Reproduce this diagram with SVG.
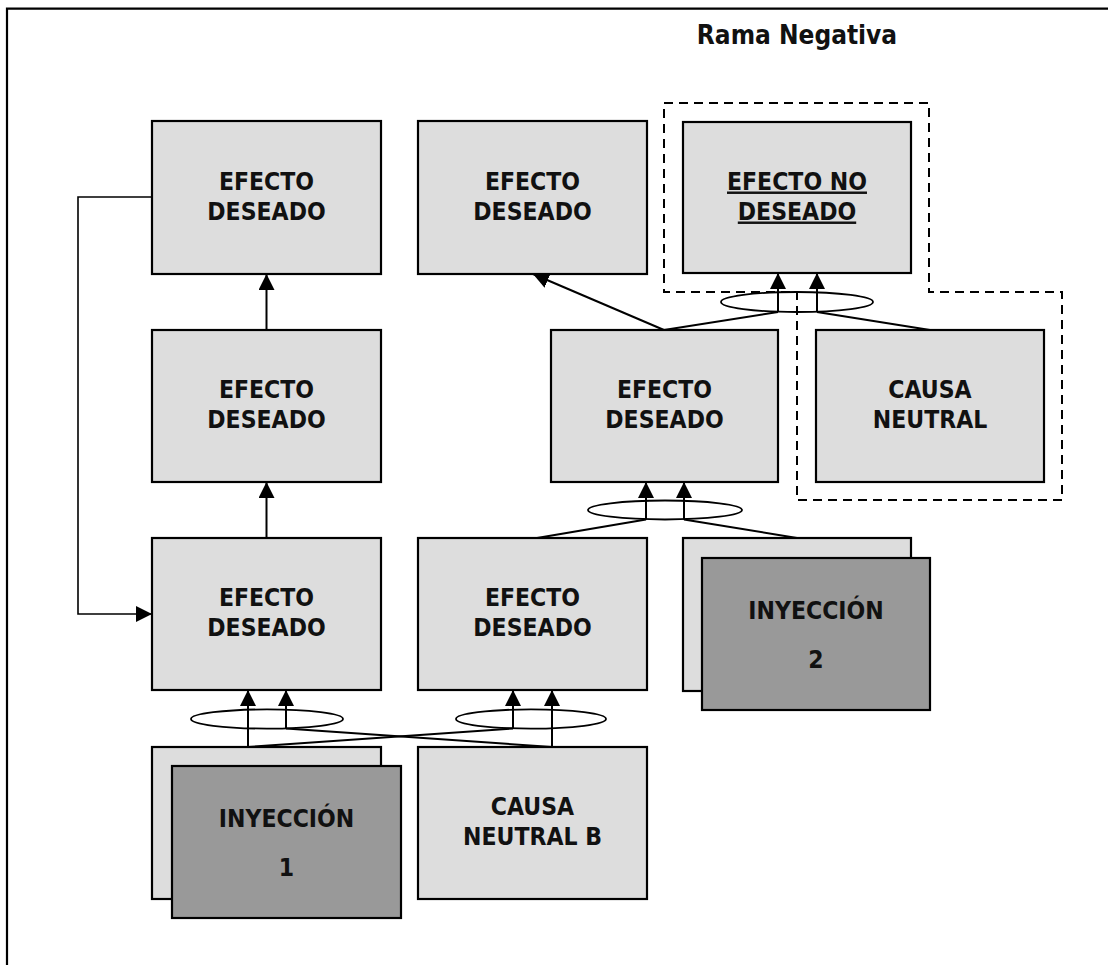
<svg xmlns="http://www.w3.org/2000/svg" width="1108" height="965" viewBox="0 0 1108 965">
<style>
.box{fill:#dddddd;stroke:#000;stroke-width:2.2}
.inj{fill:#999999;stroke:#000;stroke-width:2.2}
.t{font-family:'DejaVu Sans Condensed','DejaVu Sans',sans-serif;font-stretch:condensed;font-weight:bold;font-size:24.5px;fill:#111;text-anchor:middle}
.title{font-family:'DejaVu Sans Condensed','DejaVu Sans',sans-serif;font-stretch:condensed;font-weight:bold;font-size:26px;fill:#111;text-anchor:middle}
.ln{stroke:#000;stroke-width:2;fill:none}
.ell{stroke:#000;stroke-width:1.8;fill:none}
.arr{stroke:#000;stroke-width:2;fill:none;marker-end:url(#ah)}
</style>
<defs>
<marker id="ah" markerUnits="userSpaceOnUse" markerWidth="16" markerHeight="16" viewBox="0 0 15 15" refX="15" refY="7.5" orient="auto">
<path d="M0,0 L15,7.5 L0,15 z" fill="#000"/>
</marker>
</defs>
<rect width="1108" height="965" fill="#fff"/>
<path d="M7,980 V8.7 H1120" fill="none" stroke="#000" stroke-width="2.2"/>
<text class="title" x="797" y="44">Rama Negativa</text>
<path id="negative-branch" d="M664,103 H929 V292 H1062 V500 H797 V292 H664 Z" fill="none" stroke="#000" stroke-width="2" stroke-dasharray="9 6"/>

<g id="n-ed-top-left"><rect class="box" x="152" y="121" width="229" height="153"/><text class="t" x="266.5" y="189.5">EFECTO</text><text class="t" x="266.5" y="219.5">DESEADO</text></g>
<g id="n-ed-top-mid"><rect class="box" x="418" y="121" width="229" height="153"/><text class="t" x="532.5" y="189.5">EFECTO</text><text class="t" x="532.5" y="219.5">DESEADO</text></g>
<g id="n-end"><rect class="box" x="683" y="122" width="228" height="151"/><text class="t" x="797" y="189.5" text-decoration="underline">EFECTO NO</text><text class="t" x="797" y="219.5" text-decoration="underline">DESEADO</text></g>

<g id="n-ed-mid-left"><rect class="box" x="152" y="330" width="229" height="152"/><text class="t" x="266.5" y="398">EFECTO</text><text class="t" x="266.5" y="428">DESEADO</text></g>
<g id="n-ed-mid-mid"><rect class="box" x="551" y="330" width="227" height="152"/><text class="t" x="664.5" y="398">EFECTO</text><text class="t" x="664.5" y="428">DESEADO</text></g>
<g id="n-causa-neutral"><rect class="box" x="816" y="330" width="228" height="152"/><text class="t" x="930" y="398">CAUSA</text><text class="t" x="930" y="428">NEUTRAL</text></g>

<g id="n-ed-low-left"><rect class="box" x="152" y="538" width="229" height="152"/><text class="t" x="266.5" y="606">EFECTO</text><text class="t" x="266.5" y="636">DESEADO</text></g>
<g id="n-ed-low-mid"><rect class="box" x="418" y="538" width="229" height="152"/><text class="t" x="532.5" y="606">EFECTO</text><text class="t" x="532.5" y="636">DESEADO</text></g>
<g id="n-iny2"><rect class="box" x="683" y="538" width="228" height="153"/><rect class="inj" x="702" y="558" width="228" height="152"/><text class="t" x="816" y="619">INYECCIÓN</text><text class="t" x="816" y="668">2</text></g>

<g id="n-iny1"><rect class="box" x="152" y="747" width="229" height="152"/><rect class="inj" x="172" y="766" width="229" height="152"/><text class="t" x="286.5" y="827">INYECCIÓN</text><text class="t" x="286.5" y="876">1</text></g>
<g id="n-causa-b"><rect class="box" x="418" y="747" width="229" height="152"/><text class="t" x="532.5" y="815">CAUSA</text><text class="t" x="532.5" y="845">NEUTRAL B</text></g>

<g id="connectors">
<line class="arr" x1="266.5" y1="330" x2="266.5" y2="274"/>
<line class="arr" x1="266.5" y1="538" x2="266.5" y2="482"/>
<polyline class="arr" points="152,197 78,197 78,614 152,614" style="stroke-width:1.6"/>

<ellipse class="ell" cx="267" cy="719" rx="76" ry="9.6"/>
<ellipse class="ell" cx="531" cy="719" rx="75" ry="9.6"/>
<line class="arr" x1="248" y1="747" x2="248" y2="690"/>
<line class="arr" x1="286" y1="728.5" x2="286" y2="690"/>
<line class="arr" x1="513" y1="728.5" x2="513" y2="690"/>
<line class="arr" x1="552" y1="747" x2="552" y2="690"/>
<line class="ln" x1="248" y1="747" x2="513" y2="728.5"/>
<line class="ln" x1="286" y1="728.5" x2="552" y2="747"/>

<ellipse class="ell" cx="665" cy="510" rx="77" ry="9.5"/>
<line class="arr" x1="646" y1="519.5" x2="646" y2="482"/>
<line class="arr" x1="684" y1="519.5" x2="684" y2="482"/>
<line class="ln" x1="537" y1="538" x2="646" y2="519.5"/>
<line class="ln" x1="684" y1="519.5" x2="797" y2="538"/>

<ellipse class="ell" cx="797" cy="302" rx="76" ry="10"/>
<line class="arr" x1="778" y1="312" x2="778" y2="273"/>
<line class="arr" x1="817" y1="312" x2="817" y2="273"/>
<line class="ln" x1="664" y1="330" x2="778" y2="312"/>
<line class="ln" x1="817" y1="312" x2="930" y2="330"/>
<line class="arr" x1="664" y1="330" x2="533" y2="274"/>
</g>
</svg>
